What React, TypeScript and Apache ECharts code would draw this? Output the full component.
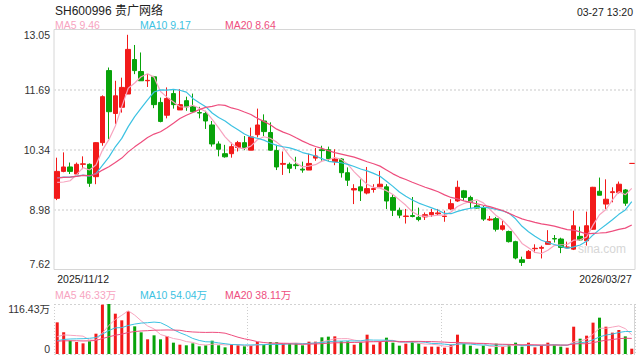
import React, { useEffect, useRef } from 'react';
import * as echarts from 'echarts';

const titleText = 'SH600996 贵广网络';
const timeText = '03-27 13:20';
const priceMaLabels = ['MA5 9.46', 'MA10 9.17', 'MA20 8.64'];
const volumeMaLabels = ['MA5 46.33万', 'MA10 54.04万', 'MA20 38.11万'];
const watermarkText = 'sina.com';

const priceMin = 7.62;
const priceMax = 13.05;
const volumeMax = 116.43;

const dates = [
  '2025/11/12', '2025/11/13', '2025/11/14', '2025/11/17', '2025/11/18', '2025/11/19', '2025/11/20', '2025/11/21',
  '2025/11/24', '2025/11/25', '2025/11/26', '2025/11/27', '2025/11/28',
  '2025/12/01', '2025/12/02', '2025/12/03', '2025/12/04', '2025/12/05', '2025/12/08', '2025/12/09', '2025/12/10',
  '2025/12/11', '2025/12/12', '2025/12/15', '2025/12/16', '2025/12/17', '2025/12/18', '2025/12/19', '2025/12/22',
  '2025/12/23', '2025/12/24', '2025/12/25', '2025/12/26', '2025/12/29', '2025/12/30', '2025/12/31',
  '2026/01/05', '2026/01/06', '2026/01/07', '2026/01/08', '2026/01/09', '2026/01/12', '2026/01/13', '2026/01/14',
  '2026/01/15', '2026/01/16', '2026/01/19', '2026/01/20', '2026/01/21', '2026/01/22', '2026/01/23', '2026/01/26',
  '2026/01/27', '2026/01/28', '2026/01/29', '2026/01/30',
  '2026/02/02', '2026/02/03', '2026/02/04', '2026/02/05', '2026/02/06', '2026/02/09', '2026/02/10', '2026/02/11',
  '2026/02/12', '2026/02/13', '2026/02/24', '2026/02/25', '2026/02/26', '2026/02/27',
  '2026/03/02', '2026/03/03', '2026/03/04', '2026/03/05', '2026/03/06', '2026/03/09', '2026/03/10', '2026/03/11',
  '2026/03/12', '2026/03/13', '2026/03/16', '2026/03/17', '2026/03/18', '2026/03/19', '2026/03/20', '2026/03/23',
  '2026/03/24', '2026/03/25', '2026/03/26', '2026/03/27',
];

const opens = [
  9.23, 9.84, 9.94, 9.78, 10.00, 10.00, 9.72, 10.49, 12.12, 11.15,
  11.29, 11.59, 12.37, 12.10, 11.89, 11.98, 11.40, 11.11, 11.60, 11.23,
  11.44, 11.30, 11.17, 11.15, 10.89, 10.46, 10.24, 10.24, 10.38, 10.49,
  10.32, 10.67, 10.98, 10.72, 10.31, 10.00, 10.00, 9.99, 9.89, 9.87,
  10.14, 10.33, 10.33, 10.06, 10.12, 9.81, 9.42, 9.49, 9.35, 9.43,
  9.49, 9.49, 9.25, 8.96, 8.82, 8.84, 8.80, 8.81, 8.86, 8.88,
  8.82, 8.99, 9.17, 9.40, 9.25, 9.06, 9.02, 8.74, 8.77, 8.53,
  8.48, 8.25, 7.84, 7.87, 8.09, 8.10, 8.19, 8.32, 8.31, 8.11,
  8.08, 8.37, 8.27, 8.53, 9.39, 9.10, 9.36, 9.36, 9.42, 10.02,
];
const closes = [
  9.84, 9.94, 9.84, 10.00, 10.01, 9.57, 10.49, 11.53, 11.19, 11.55,
  11.74, 12.60, 12.12, 11.89, 11.90, 11.35, 10.97, 11.49, 11.35, 11.35,
  11.30, 11.19, 11.16, 10.98, 10.46, 10.34, 10.17, 10.40, 10.49, 10.38,
  10.62, 10.89, 10.74, 10.32, 9.94, 10.02, 9.91, 9.97, 9.87, 10.02,
  10.19, 10.31, 10.13, 10.12, 9.81, 9.64, 9.45, 9.40, 9.45, 9.45,
  9.55, 9.17, 8.96, 8.85, 8.83, 8.82, 8.75, 8.86, 8.91, 8.90,
  8.83, 9.11, 9.48, 9.25, 9.14, 9.01, 8.76, 8.76, 8.53, 8.61,
  8.25, 7.88, 7.78, 8.03, 8.10, 8.12, 8.25, 8.31, 8.12, 8.13,
  8.61, 8.29, 8.61, 9.48, 9.30, 9.21, 9.38, 9.55, 9.12, 10.02,
];
const lows = [
  9.19, 9.82, 9.78, 9.76, 9.89, 9.49, 9.55, 10.42, 10.57, 10.91,
  11.17, 11.59, 12.04, 11.89, 11.75, 11.27, 10.95, 11.04, 11.26, 11.23,
  11.21, 11.17, 11.04, 10.80, 10.40, 10.18, 10.15, 10.15, 10.29, 10.32,
  10.32, 10.61, 10.64, 10.31, 9.87, 9.76, 9.80, 9.89, 9.81, 9.87,
  10.08, 10.08, 10.08, 9.98, 9.70, 9.51, 9.10, 9.17, 9.32, 9.36,
  9.48, 8.99, 8.83, 8.78, 8.66, 8.80, 8.71, 8.74, 8.81, 8.85,
  8.70, 8.97, 9.15, 9.17, 8.99, 9.00, 8.72, 8.72, 8.48, 8.50,
  8.23, 7.85, 7.70, 7.87, 8.00, 7.87, 8.19, 8.23, 7.99, 8.10,
  8.06, 8.27, 8.16, 8.52, 9.30, 8.99, 9.14, 9.34, 9.06, 10.02,
];
const highs = [
  10.15, 10.27, 10.04, 10.04, 10.18, 10.02, 10.50, 11.56, 12.19, 11.89,
  11.96, 12.93, 12.70, 12.53, 12.04, 12.00, 11.51, 11.74, 11.70, 11.70,
  11.53, 11.60, 11.30, 11.21, 10.98, 10.52, 10.44, 10.49, 10.53, 10.64,
  10.83, 11.26, 11.13, 10.95, 10.44, 10.29, 10.04, 10.17, 10.06, 10.24,
  10.37, 10.42, 10.40, 10.34, 10.14, 9.93, 9.55, 9.66, 9.94, 9.55,
  9.85, 9.55, 9.32, 9.02, 8.99, 9.26, 9.02, 8.91, 8.99, 8.99,
  8.95, 9.21, 9.63, 9.42, 9.29, 9.17, 9.06, 8.83, 8.81, 8.72,
  8.50, 8.27, 7.91, 8.06, 8.19, 8.16, 8.51, 8.40, 8.34, 8.25,
  8.95, 8.59, 8.93, 9.49, 9.70, 9.66, 9.48, 9.61, 9.44, 10.02,
];
// volumes in 万 (10k shares)
const volumes = [
  73.7, 50.5, 31.0, 27.9, 24.8, 29.5, 47.3, 114.9, 116.43, 93.9,
  78.4, 99.4, 64.4, 50.5, 34.2, 43.5, 34.2, 41.9, 26.4, 21.7,
  20.2, 24.8, 17.9, 20.2, 31.0, 20.2, 15.5, 23.3, 20.2, 17.9,
  20.2, 27.9, 21.7, 27.9, 27.9, 23.3, 24.8, 24.8, 20.2, 28.7,
  28.7, 38.8, 40.4, 41.1, 29.5, 29.5, 21.7, 27.2, 45.0, 21.7,
  27.9, 38.0, 26.4, 19.4, 24.1, 30.3, 24.8, 17.1, 17.1, 17.1,
  14.7, 21.7, 45.0, 24.8, 19.4, 12.4, 19.4, 12.4, 24.1, 17.1,
  21.7, 26.4, 17.1, 26.4, 15.5, 20.2, 26.4, 20.2, 17.1, 14.7,
  63.6, 35.7, 42.7, 73.0, 84.6, 63.6, 49.7, 55.9, 41.1, 12.4,
];
// sessions before the visible window (needed for the moving averages at the left edge)
const priorCloses = [
  9.60, 9.65, 9.67, 9.63, 9.70, 9.75, 9.73, 9.65, 9.67, 9.71,
  9.80, 9.85, 9.78, 9.75, 9.82, 9.90, 9.70, 9.30, 9.22,
];
const priorVolumes = [
  26, 30, 28, 32, 25, 27, 29, 31, 24, 28,
  22, 20, 24, 21, 21, 30, 35, 33, 30,
];

const RED = '#f21a1a';
const GREEN = '#08a30a';
const MA5_COLOR = '#f7a4bf';
const MA10_COLOR = '#3cc2e2';
const MA20_COLOR = '#ee4e7e';
const FONT = 'Arial, "Liberation Sans", "Noto Sans CJK SC", sans-serif';

function movingAverage(history: number[], values: number[], n: number): number[] {
  const all = history.concat(values);
  const off = history.length;
  return values.map((_, i) => {
    let s = 0;
    for (let k = 0; k < n; k++) s += all[off + i - k];
    return +(s / n).toFixed(3);
  });
}

function isUp(i: number): boolean {
  if (closes[i] !== opens[i]) return closes[i] > opens[i];
  const prev = i > 0 ? closes[i - 1] : priorCloses[priorCloses.length - 1];
  return closes[i] >= prev;
}

function fmt2(v: number): string {
  return (Math.round(v * 100 + 1e-6) / 100).toFixed(2);
}

function buildOption(): any {
  const candleData = dates.map((_, i) => [opens[i], closes[i], lows[i], highs[i]]);
  const volData = volumes.map((v, i) => ({ value: v, itemStyle: { color: isUp(i) ? RED : GREEN } }));
  const last = dates.length - 1;
  const maLine = (name: string, data: number[], color: string, xi: number, width: number) => ({
    name, type: 'line', data, xAxisIndex: xi, yAxisIndex: xi, symbol: 'none', silent: true,
    lineStyle: { color, width }, itemStyle: { color }, z: 3,
  });
  const labelText = (text: string, x: number, y: number, color: string, align = 'left', size = 10.5) => ({
    type: 'text', x, y, silent: true,
    style: { text, fill: color, font: `${size}px ${FONT}`, textAlign: align, textVerticalAlign: 'middle' },
  });
  const maColors = [MA5_COLOR, MA10_COLOR, MA20_COLOR];
  const maX = [55, 140, 225];
  return {
    animation: false,
    backgroundColor: '#ffffff',
    textStyle: { fontFamily: FONT },
    title: {
      text: titleText, left: 55, top: 5, padding: 0,
      textStyle: { fontSize: 12, fontWeight: 'normal', color: '#222', fontFamily: FONT },
    },
    grid: [
      { left: 54, top: 29.5, width: 581, height: 240, show: true, borderColor: '#d6d6d6', borderWidth: 1, backgroundColor: 'transparent' },
      { left: 54, top: 304, width: 581, height: 50 },
    ],
    xAxis: [
      {
        type: 'category', gridIndex: 0, data: dates, boundaryGap: true,
        axisLine: { show: false }, axisTick: { show: false }, splitLine: { show: false },
        axisLabel: {
          interval: (i: number) => i === 0 || i === last,
          fontSize: 10.5, color: '#222', margin: 4,
          alignMinLabel: 'left', alignMaxLabel: 'right',
        },
      },
      {
        type: 'category', gridIndex: 1, data: dates, boundaryGap: true,
        axisLine: { show: false }, axisTick: { show: false }, axisLabel: { show: false },
        splitLine: { show: true, interval: (i: number) => i % 30 === 0, lineStyle: { color: '#cdcdcd', width: 1, type: [1, 2] } },
      },
    ],
    yAxis: [
      {
        type: 'value', gridIndex: 0, min: priceMin, max: priceMax, interval: (priceMax - priceMin) / 4,
        axisLine: { show: false }, axisTick: { show: false },
        splitLine: { show: true, showMinLine: false, showMaxLine: false, lineStyle: { color: '#e4e4e4', width: 2, type: [2, 2] } },
        axisLabel: {
          fontSize: 10.5, color: '#333', margin: 4, formatter: (v: number) => fmt2(v),
          verticalAlignMinLabel: 'bottom', verticalAlignMaxLabel: 'top',
        },
      },
      {
        type: 'value', gridIndex: 1, min: 0, max: volumeMax, interval: volumeMax,
        axisLine: { show: false }, axisTick: { show: false },
        splitLine: { show: true, lineStyle: { color: '#d2d2d2', width: 1, type: [2, 2] } },
        axisLabel: {
          fontSize: 10.5, color: '#333', margin: 4,
          formatter: (v: number) => (v === 0 ? '0' : fmt2(v) + '万'),
          verticalAlignMinLabel: 'bottom', verticalAlignMaxLabel: 'top',
        },
      },
    ],
    series: [
      {
        name: 'K', type: 'candlestick', xAxisIndex: 0, yAxisIndex: 0, data: candleData, barWidth: 5, silent: true,
        itemStyle: { color: RED, color0: GREEN, borderColor: RED, borderColor0: GREEN, borderWidth: 1 },
      },
      maLine('MA5', movingAverage(priorCloses, closes, 5), MA5_COLOR, 0, 1.2),
      maLine('MA10', movingAverage(priorCloses, closes, 10), MA10_COLOR, 0, 1.2),
      maLine('MA20', movingAverage(priorCloses, closes, 20), MA20_COLOR, 0, 1.2),
      { name: 'VOL', type: 'bar', xAxisIndex: 1, yAxisIndex: 1, data: volData, barWidth: 3, silent: true },
      maLine('VMA5', movingAverage(priorVolumes, volumes, 5), MA5_COLOR, 1, 1),
      maLine('VMA10', movingAverage(priorVolumes, volumes, 10), MA10_COLOR, 1, 1),
      maLine('VMA20', movingAverage(priorVolumes, volumes, 20), MA20_COLOR, 1, 1),
    ],
    graphic: [
      labelText(timeText, 633, 12, '#222', 'right'),
      ...priceMaLabels.map((t, i) => labelText(t, maX[i], 25, maColors[i])),
      ...volumeMaLabels.map((t, i) => labelText(t, maX[i], 295, maColors[i])),
      labelText(watermarkText, 602, 249, '#d6d6d6', 'center', 12),
      { type: 'line', silent: true, shape: { x1: 634.5, y1: 304, x2: 634.5, y2: 354 }, style: { stroke: '#d6d6d6', lineWidth: 1 } },
    ],
  };
}

export default function App() {
  const ref = useRef<HTMLDivElement>(null);
  useEffect(() => {
    if (!ref.current) return;
    const chart = echarts.init(ref.current, null, { renderer: 'svg' });
    chart.setOption(buildOption());
    return () => chart.dispose();
  }, []);
  return <div ref={ref} style={{ position: 'absolute', left: 0, top: 0, width: 640, height: 360 }} />;
}
